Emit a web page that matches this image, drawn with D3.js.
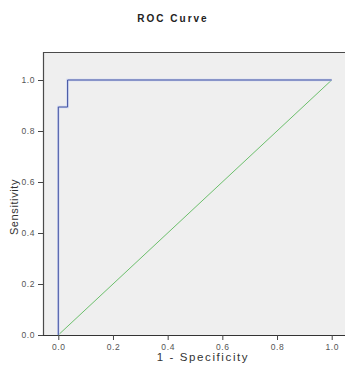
<!DOCTYPE html>
<html>
<head>
<meta charset="utf-8">
<script src="https://cdn.jsdelivr.net/npm/d3@7"></script>
<style>
  html, body { margin: 0; padding: 0; background: #fff; }
</style>
</head>
<body>
<div id="chart"></div>
<script>
// ROC curve points (1 - specificity, sensitivity)
var rocFpr = [0.0, 0.0, 0.034, 0.034, 1.0];
var rocTpr = [0.0, 0.894, 0.894, 1.0, 1.0];
// reference diagonal
var refFpr = [0.0, 1.0];
var refTpr = [0.0, 1.0];
var xTicks = [0, 0.2, 0.4, 0.6, 0.8, 1.0];
var yTicks = [0, 0.2, 0.4, 0.6, 0.8, 1.0];

var W = 345, H = 365;
var svg = d3.select("#chart").append("svg")
  .attr("width", W).attr("height", H);

// panel bounds
var panelLeft = 43, panelTop = 52, panelRight = 345, panelBottom = 335;

var x = d3.scaleLinear().domain([0, 1]).range([58.3, 331.7]);
var y = d3.scaleLinear().domain([0, 1]).range([335, 80]);

svg.append("rect")
  .attr("x", panelLeft).attr("y", panelTop)
  .attr("width", panelRight - panelLeft).attr("height", panelBottom - panelTop)
  .attr("fill", "#efefef");

// frame: top + left
svg.append("path")
  .attr("d", "M" + panelRight + "," + (panelTop + 0.5) + "H" + (panelLeft + 0.5) + "V" + panelBottom)
  .attr("fill", "none").attr("stroke", "#4a4a4a").attr("stroke-width", 1.2);

var fmt = d3.format(".1f");

var xAxis = svg.append("g")
  .attr("transform", "translate(0," + panelBottom + ")")
  .call(d3.axisBottom(x).tickValues(xTicks).tickFormat(fmt).tickSize(5).tickPadding(4));
xAxis.select(".domain").attr("d", "M" + panelLeft + ",0.5H" + panelRight).attr("stroke", "#333");

var yAxis = svg.append("g")
  .attr("transform", "translate(" + panelLeft + ",0)")
  .call(d3.axisLeft(y).tickValues(yTicks).tickFormat(fmt).tickSize(5).tickPadding(3));
yAxis.select(".domain").remove();

svg.selectAll(".tick line").attr("stroke", "#444");
svg.selectAll(".tick text")
  .attr("fill", "#555")
  .style("font", "8.5px 'Liberation Sans', Arial, sans-serif")
  .style("letter-spacing", "0.6px");

// diagonal
var line = d3.line().x(function(d) { return x(d[0]); }).y(function(d) { return y(d[1]); });
svg.append("path")
  .datum(d3.zip(refFpr, refTpr))
  .attr("d", line)
  .attr("fill", "none").attr("stroke", "#6cbf6c").attr("stroke-width", 1);

var rocData = d3.zip(rocFpr, rocTpr);
svg.append("path")
  .datum(rocData)
  .attr("d", line)
  .attr("fill", "none").attr("stroke", "#d0d8f2").attr("stroke-width", 2.6);
svg.append("path")
  .datum(rocData)
  .attr("d", line)
  .attr("fill", "none").attr("stroke", "#41519f").attr("stroke-width", 1);

// titles
svg.append("text")
  .attr("x", 173).attr("y", 22)
  .attr("text-anchor", "middle")
  .style("font", "bold 10px 'Liberation Sans', Arial, sans-serif")
  .style("letter-spacing", "2px")
  .attr("fill", "#222")
  .text("ROC Curve");

svg.append("text")
  .attr("x", 203).attr("y", 361)
  .attr("text-anchor", "middle")
  .style("font", "11.5px 'Liberation Sans', Arial, sans-serif")
  .style("letter-spacing", "1.6px")
  .attr("fill", "#333")
  .text("1 - Specificity");

svg.append("text")
  .attr("transform", "translate(18,207) rotate(-90)")
  .attr("text-anchor", "middle")
  .style("font", "11px 'Liberation Sans', Arial, sans-serif")
  .style("letter-spacing", "0.6px")
  .attr("fill", "#333")
  .text("Sensitivity");
</script>
</body>
</html>
